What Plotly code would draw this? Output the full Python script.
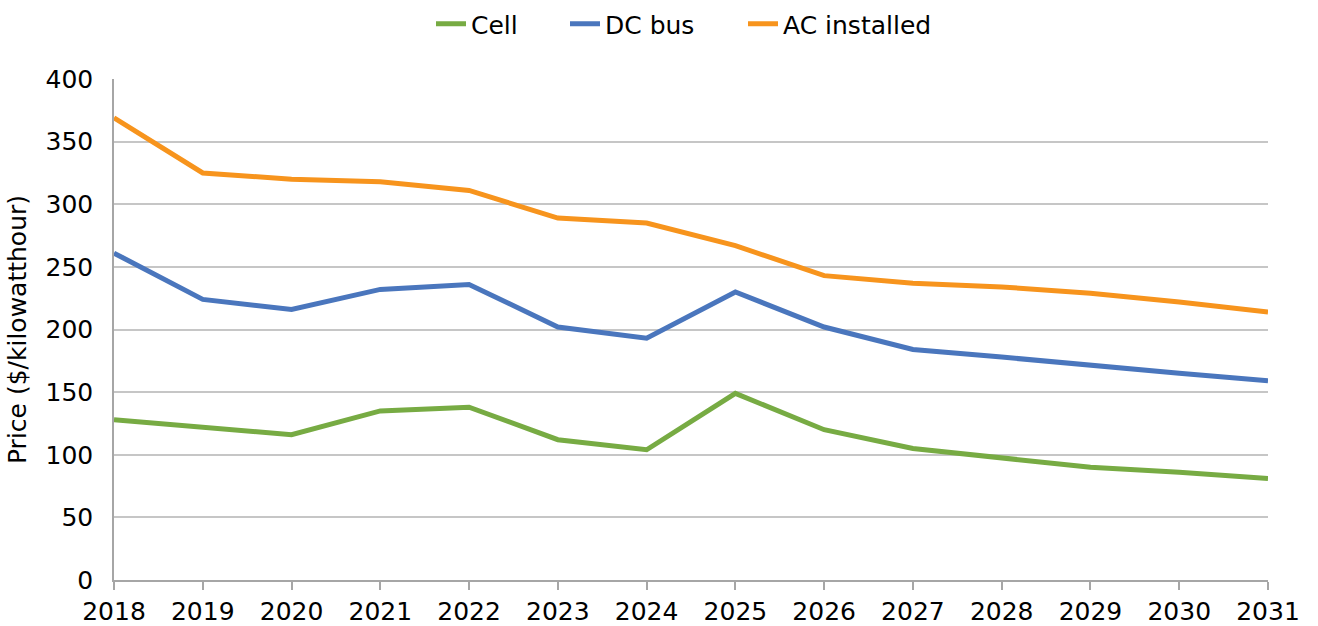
import plotly.graph_objects as go

years = list(range(2018, 2032))
cell = [128, 122, 116, 135, 138, 112, 104, 149, 120, 105, 98, 90, 86, 81]
dc_bus = [261, 224, 216, 232, 236, 202, 193, 230, 202, 184, 178, 171, 165, 159]
ac_installed = [369, 325, 320, 318, 311, 289, 285, 267, 243, 237, 234, 229, 222, 214]

series = [
    ("Cell", cell, "#77ab43", "legend"),
    ("DC bus", dc_bus, "#4a76bd", "legend2"),
    ("AC installed", ac_installed, "#f7941d", "legend3"),
]

W, H = 1318, 626
fig = go.Figure()
for name, vals, color, lg in series:
    fig.add_trace(go.Scatter(x=years, y=vals, name=name, mode="lines",
                             line=dict(color=color, width=5), legend=lg))

FS = 25
FAM = "DejaVu Sans, Verdana, sans-serif"
font = dict(family=FAM, size=FS, color="#000000")


def leg(px_left):
    return dict(orientation="h", x=px_left / W, xanchor="left", xref="container",
                y=1 - 24 / H, yanchor="middle", yref="container",
                font=dict(family=FAM, size=FS), bgcolor="rgba(0,0,0,0)",
                borderwidth=0)


fig.update_layout(
    width=W, height=H,
    margin=dict(l=114, r=50, t=79, b=46, autoexpand=False),
    paper_bgcolor="white", plot_bgcolor="white",
    font=font,
    showlegend=True,
    legend=leg(431),
    legend2=leg(565),
    legend3=leg(743),
)
fig.update_xaxes(
    range=[2018, 2031], tickvals=years, ticktext=[str(y) for y in years],
    showgrid=False, showline=True, linecolor="#a6a6a6", linewidth=1.5,
    ticks="outside", ticklen=8, tickcolor="#a6a6a6", tickwidth=1.5,
    tickfont=dict(size=FS), zeroline=False, automargin=False,
)
fig.update_yaxes(
    range=[0, 400], dtick=50, showgrid=True, gridcolor="#c6c6c6", gridwidth=1.5,
    showline=True, linecolor="#a6a6a6", linewidth=1.5, zeroline=False,
    tickfont=dict(size=FS), ticks="", ticklabelstandoff=14, automargin=False,
    title=dict(text="Price ($/kilowatthour)", font=dict(size=FS), standoff=12),
)
fig.write_html("out.html", config={"displayModeBar": False},
               post_script="document.body.style.margin='0';document.body.style.padding='0';")
